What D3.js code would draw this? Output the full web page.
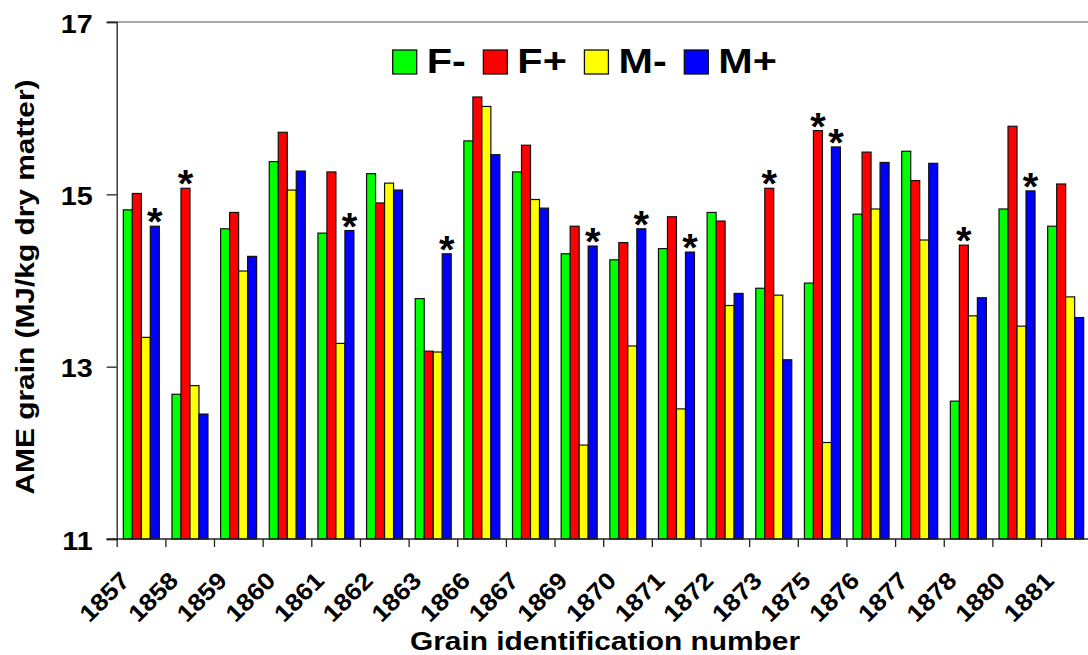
<!DOCTYPE html>
<html><head><meta charset="utf-8">
<script src="https://cdn.jsdelivr.net/npm/d3@7"></script>
<style>html,body{margin:0;padding:0;background:#fff}svg{display:block}text{font-family:"Liberation Sans",Arial,sans-serif;font-weight:bold;fill:#000}</style>
</head><body>
<svg id="c" width="1088" height="655"></svg>
<script>
const categories = ["1857","1858","1859","1860","1861","1862","1863","1866","1867","1869","1870","1871","1872","1873","1875","1876","1877","1878","1880","1881"];
const seriesNames = ["F-","F+","M-","M+"];
const seriesColors = ["#00ff00","#ff0000","#ffff00","#0000ff"];
const fMinus = [14.82,12.68,14.60,15.38,14.55,15.24,13.79,15.62,15.26,14.31,14.24,14.37,14.79,13.91,13.97,14.77,15.50,12.60,14.83,14.63];
const fPlus  = [15.01,15.07,14.79,15.72,15.26,14.90,13.18,16.13,15.57,14.63,14.44,14.74,14.69,15.07,15.74,15.49,15.16,14.41,15.79,15.12];
const mMinus = [13.34,12.78,14.11,15.05,13.27,15.13,13.17,16.02,14.94,12.09,13.24,12.51,13.71,13.83,12.12,14.83,14.47,13.59,13.47,13.81];
const mPlus  = [14.63,12.45,14.28,15.27,14.58,15.05,14.31,15.46,14.84,14.40,14.60,14.33,13.85,13.08,15.55,15.37,15.36,13.80,15.04,13.57];
const yTicks = [11,13,15,17];
const significant = [["1857","M+"],["1858","F+"],["1861","M+"],["1863","M+"],["1869","M+"],["1870","M+"],["1871","M+"],["1873","F+"],["1875","F+"],["1875","M+"],["1878","F+"],["1880","M+"]];
const yTitle = "AME grain (MJ/kg dry matter)";
const xTitle = "Grain identification number";

(function(){
const values = [fMinus, fPlus, mMinus, mPlus];
const data = categories.map((c,i)=>({cat:c, vals: seriesNames.map((s,j)=>({s, v: values[j][i]}))}));

const W = 1.15; // wide glyph factor
const svg = d3.select("#c");
const pLeft = 116.7, pTop = 22, pBottom = 539;
const step = 48.65;
const x0 = d3.scaleBand().domain(categories).range([pLeft, pLeft + step*categories.length]).padding(0);
const bw = x0.bandwidth();
const x1 = d3.scaleBand().domain(seriesNames).range([bw*0.136, bw*0.876]).padding(0);
const y = d3.scaleLinear().domain([11,17]).range([pBottom, pTop]);
const color = d3.scaleOrdinal().domain(seriesNames).range(seriesColors);

// top gridline
svg.append("line").attr("x1", pLeft-10).attr("x2", 1088).attr("y1", y(17)).attr("y2", y(17))
  .attr("stroke", "#8a8a8a").attr("stroke-width", 1.3);

// bars
const g = svg.append("g");
const groups = g.selectAll("g.grp").data(data).join("g").attr("class","grp")
  .attr("transform", d=>`translate(${x0(d.cat)},0)`);
groups.selectAll("rect").data(d=>d.vals).join("rect")
  .attr("x", d=>x1(d.s)).attr("width", x1.bandwidth())
  .attr("y", d=>y(d.v)).attr("height", d=>y(11)-y(d.v))
  .attr("fill", d=>color(d.s)).attr("stroke", "#111").attr("stroke-width", 1.2);

// asterisks
svg.selectAll("text.ast").data(significant).join("text").attr("class","ast")
  .attr("text-anchor","middle").attr("font-size", 38)
  .attr("transform", d=>{
    const i = categories.indexOf(d[0]), j = seriesNames.indexOf(d[1]);
    const cx = x0(d[0]) + x1(d[1]) + x1.bandwidth()/2;
    return `translate(${cx},${y(values[j][i]) + 9}) scale(1.05,1)`;
  }).text("*");

// y axis
const yAxis = d3.axisLeft(y).tickValues(yTicks).tickSize(10).tickFormat(d3.format("d"));
const ya = svg.append("g").attr("transform", `translate(${pLeft},0)`).call(yAxis);
ya.select(".domain").attr("stroke","#222").attr("stroke-width",1.3);
ya.selectAll(".tick line").attr("stroke","#222").attr("stroke-width",1.3);
ya.selectAll(".tick text").remove();
svg.selectAll("text.ytl").data(yTicks).join("text").attr("class","ytl")
  .attr("text-anchor","end").attr("font-size",25)
  .attr("transform", d=>`translate(${pLeft-24},${y(d)+10.5}) scale(${W},1)`).text(d=>d);

// x axis
const xTickScale = d3.scaleLinear().domain([0, categories.length]).range([pLeft, pLeft + step*categories.length]);
const xa = svg.append("g").attr("transform", `translate(0,${pBottom})`)
  .call(d3.axisBottom(xTickScale).tickValues(d3.range(0, categories.length)).tickSize(8).tickFormat(""));
xa.select(".domain").remove();
xa.selectAll(".tick line").attr("stroke","#222").attr("stroke-width",1.3);
svg.append("line").attr("x1", pLeft-10).attr("x2", 1088).attr("y1", pBottom).attr("y2", pBottom)
  .attr("stroke","#222").attr("stroke-width",1.3);

svg.selectAll("text.xtl").data(categories).join("text").attr("class","xtl")
  .attr("text-anchor","end").attr("font-size",24)
  .attr("transform", d=>`translate(${x0(d)+bw/2-10},${pBottom+43}) rotate(-45) scale(1.1,1)`).text(d=>d);

// titles
svg.append("text").attr("text-anchor","middle").attr("font-size",26)
  .attr("transform", `translate(605,650) scale(${W},1)`).text(xTitle);
svg.append("text").attr("text-anchor","middle").attr("font-size",26)
  .attr("transform", `translate(34,287) rotate(-90) scale(${W},1)`).text(yTitle);

// legend
const leg = svg.append("g");
let lx = 392.7;
seriesNames.forEach((s,i)=>{
  leg.append("rect").attr("x", lx).attr("y", 50).attr("width", 24).attr("height", 24)
    .attr("fill", color(s)).attr("stroke","#111").attr("stroke-width",1.3);
  const t = leg.append("text").attr("font-size",36)
    .attr("transform", `translate(${lx+34},73.3) scale(${W},1)`).text(s);
  const w = t.node().getComputedTextLength()*W;
  lx = lx + 34 + w + 17.6;
});
})();
</script>
</body></html>
